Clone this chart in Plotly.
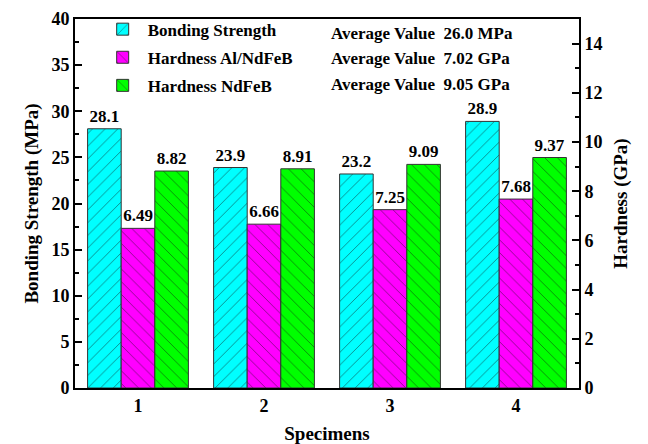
import plotly.graph_objects as go

specimens = [1, 2, 3, 4]
tick_labels = ["1", "2", "3", "4"]
bonding = [28.1, 23.9, 23.2, 28.9]
hard_al = [6.49, 6.66, 7.25, 7.68]
hard_nd = [8.82, 8.91, 9.09, 9.37]
bonding_txt = ["28.1", "23.9", "23.2", "28.9"]
hard_al_txt = ["6.49", "6.66", "7.25", "7.68"]
hard_nd_txt = ["8.82", "8.91", "9.09", "9.37"]
avg_labels = ["Average Value  26.0 MPa", "Average Value  7.02 GPa", "Average Value  9.05 GPa"]

FONT = "Liberation Serif"
bw = 0.8 / 3

def bar(name, y, txt, color, shape, offset, axis):
    return go.Bar(
        x=specimens, y=y, name=name, text=txt, textposition="outside",
        textfont=dict(family=FONT, size=17, color="black", weight="bold"),
        width=bw, offset=offset, yaxis=axis, cliponaxis=False, legendgroup=name,
        marker=dict(color=color, line=dict(color="#333333", width=1),
                    pattern=dict(shape=shape, fgcolor="#111111", size=9, solidity=0.1)),
    )

fig = go.Figure()
fig.add_trace(bar("Bonding Strength", bonding, bonding_txt, "#00FFFF", "/", -0.4, "y"))
fig.add_trace(bar("Hardness Al/NdFeB", hard_al, hard_al_txt, "#FF00FF", "\\", -0.4 + bw, "y2"))
fig.add_trace(bar("Hardness NdFeB", hard_nd, hard_nd_txt, "#00FF00", "\\", -0.4 + 2 * bw, "y2"))

ys = [0.962, 0.892, 0.822]
for t, yy in zip(avg_labels, ys):
    fig.add_annotation(text=t, xref="paper", yref="paper", x=0.504, y=yy, xanchor="left",
                       yanchor="middle", showarrow=False,
                       font=dict(family=FONT, size=17, color="black", weight="bold"))

axis_font = dict(family=FONT, size=18, color="black", weight="bold")
title_font = dict(family=FONT, size=19, color="black", weight="bold")
fig.update_layout(
    width=648, height=444,
    margin=dict(l=75, r=69, t=17, b=56),
    plot_bgcolor="white", paper_bgcolor="white",
    font=dict(family=FONT, color="black"),
    barmode="overlay",
    bargap=0.2,
    legend=dict(x=0.045, y=1.02, xanchor="left", yanchor="top", bgcolor="rgba(0,0,0,0)",
                font=dict(family=FONT, size=17, color="black", weight="bold"),
                tracegroupgap=3, itemwidth=40),
    xaxis=dict(range=[0.5, 4.5], tickvals=specimens, ticktext=["<b>" + t + "</b>" for t in tick_labels],
               ticks="", showline=True, linecolor="black", linewidth=2, mirror=True, showgrid=False,
               automargin=False,
               tickfont=axis_font, title=dict(text="Specimens", font=title_font, standoff=12)),
    yaxis=dict(range=[0, 40], dtick=5, ticks="inside", ticklen=7, tickwidth=2, tickcolor="black",
               tickprefix="<b>", ticksuffix="</b>",
               minor=dict(dtick=2.5, ticks="inside", ticklen=4, tickwidth=1.5, tickcolor="black"),
               showline=True, linecolor="black", linewidth=2, showgrid=False, zeroline=False,
               automargin=False, tickfont=axis_font,
               title=dict(text="Bonding Strength (MPa)", font=title_font, standoff=8)),
    yaxis2=dict(range=[0, 15], dtick=2, overlaying="y", side="right", ticks="inside", ticklen=7,
                tickwidth=2, tickcolor="black",
                tickprefix="<b>", ticksuffix="</b>",
                minor=dict(dtick=1, ticks="inside", ticklen=4, tickwidth=1.5, tickcolor="black"),
                showline=True, linecolor="black", linewidth=2, showgrid=False, zeroline=False,
                automargin=False, tickfont=axis_font,
                title=dict(text="Hardness (GPa)", font=title_font, standoff=12)),
)

fig.write_html("out.html")
